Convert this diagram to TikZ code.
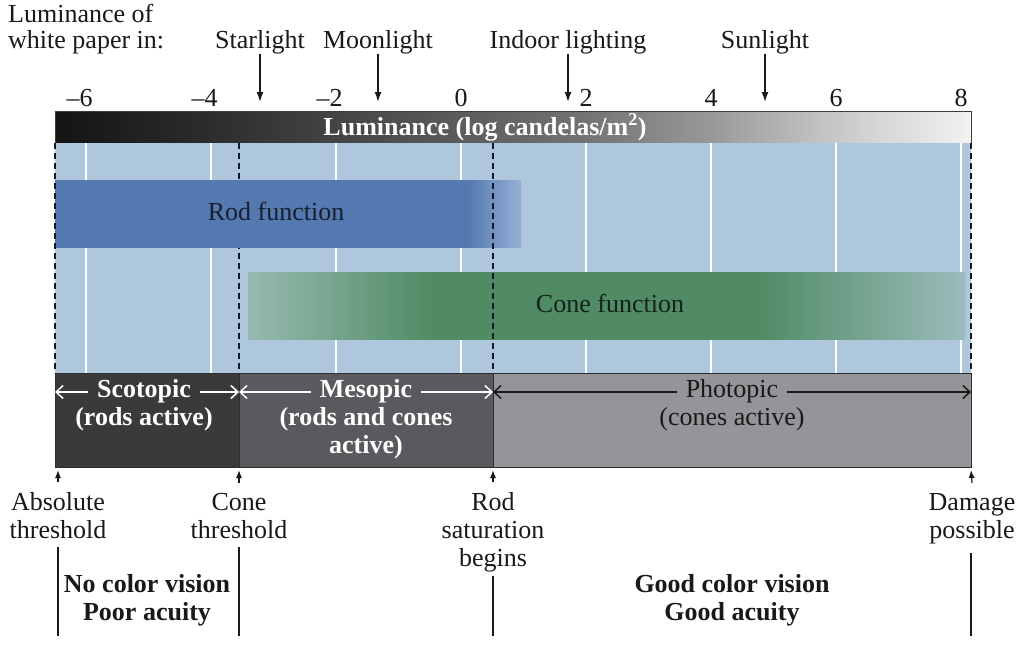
\documentclass[tikz,border=0pt]{standalone}
\usepackage{fontspec}
\setmainfont{Liberation Serif}
\usetikzlibrary{arrows.meta}
\definecolor{ink}{RGB}{25,25,25}
\definecolor{bgblue}{RGB}{175,199,220}
\definecolor{rodblue}{RGB}{84,120,176}
\definecolor{rodfade}{RGB}{150,176,212}
\definecolor{conegreen}{RGB}{80,139,100}
\definecolor{coneL}{RGB}{150,186,176}
\definecolor{coneR}{RGB}{155,188,188}
\definecolor{scotc}{RGB}{58,58,60}
\definecolor{mesoc}{RGB}{90,90,94}
\definecolor{photc}{RGB}{148,149,152}
\definecolor{boxline}{RGB}{45,45,48}
\definecolor{dashc}{RGB}{20,25,40}
\definecolor{rodtxt}{RGB}{25,30,45}
\definecolor{conetxt}{RGB}{20,35,25}
\definecolor{barline}{RGB}{60,60,60}
\definecolor{g0}{RGB}{20,20,20}
\definecolor{g1}{RGB}{45,45,45}
\definecolor{g2}{RGB}{92,92,94}
\definecolor{g3}{RGB}{115,115,117}
\definecolor{g4}{RGB}{152,153,155}
\definecolor{g5}{RGB}{200,200,202}
\definecolor{g6}{RGB}{243,243,243}
\pgfdeclarehorizontalshading{lumshade}{100bp}{color(0bp)=(g0); color(25bp)=(g0); color(33.6bp)=(g1); color(47.2bp)=(g2); color(54bp)=(g3); color(60.8bp)=(g4); color(67.6bp)=(g5); color(75bp)=(g6); color(100bp)=(g6)}
\pgfdeclarehorizontalshading{rodshade}{100bp}{color(0bp)=(rodblue); color(25bp)=(rodblue); color(69.2bp)=(rodblue); color(75bp)=(rodfade); color(100bp)=(rodfade)}
\pgfdeclarehorizontalshading{coneshade}{100bp}{color(0bp)=(coneL); color(25bp)=(coneL); color(38bp)=(conegreen); color(60.5bp)=(conegreen); color(75bp)=(coneR); color(100bp)=(coneR)}
\tikzset{
  lbl/.style={font=\fontsize{26}{30}\selectfont, text=ink, inner sep=0pt, anchor=base},
  blbl/.style={lbl, font=\fontsize{26}{30}\selectfont\bfseries},
  whead/.style={blbl, text=white, inner xsep=9pt},
  toparr/.style={-{Latex[length=10pt,width=7pt]}, line width=1.4pt, draw=ink},
  uparr/.style={-{Latex[length=8pt,width=6pt]}, line width=1.2pt, draw=ink},
  barbw/.style={-{Straight Barb[length=7pt,width=13pt]}, line width=1.5pt, draw=white},
  barbk/.style={-{Straight Barb[length=7pt,width=13pt]}, line width=1.5pt, draw=ink},
  dashv/.style={draw=dashc, line width=1.7pt, dash pattern=on 6pt off 4pt},
  whitev/.style={draw=white, line width=1.6pt},
  sepline/.style={draw=ink, line width=1.4pt},
  boxn/.style={draw=boxline, line width=0.9pt, inner sep=0pt, anchor=north west, minimum height=94pt}
}
\begin{document}
\begin{tikzpicture}[x=1pt,y=-1pt]
\useasboundingbox (0,0) rectangle (1024,648);
\fill[white] (0,0) rectangle (1024,648);

% top labels and arrows
\node[lbl,anchor=base west] (lumof) at (8,22) {Luminance of};
\node[lbl,anchor=base west] (paper) at (8,48) {white paper in:};
\node[lbl] (star) at (260,48) {Starlight};
\node[lbl] (moon) at (378,48) {Moonlight};
\node[lbl] (indoor) at (568,48) {Indoor lighting};
\node[lbl] (sun) at (765,48) {Sunlight};
\coordinate (starT) at (260,102);
\coordinate (moonT) at (378,102);
\coordinate (indoorT) at (568,102);
\coordinate (sunT) at (765,102);
\draw[toparr] (star.south) -- (starT);
\draw[toparr] (moon.south) -- (moonT);
\draw[toparr] (indoor.south) -- (indoorT);
\draw[toparr] (sun.south) -- (sunT);

% tick labels
\foreach \v/\t in {-6/{\llap{\textendash}6},-4/{\llap{\textendash}4},-2/{\llap{\textendash}2},0/0,2/2,4/4,6/6,8/8}
  \node[lbl] (tick\v) at ({461+62.5*\v},106) {\t};

% gradient bar
\node[draw=barline, line width=0.8pt, shade, shading=lumshade, minimum width=916pt, minimum height=32pt, inner sep=0pt, anchor=north west] (lumbar) at (55,111) {};
\node[blbl, text=white] (lumtxt) at (485,135) {Luminance (log candelas/m\textsuperscript{2})};

% blue field
\fill[bgblue] (55,143) rectangle (971,373);
\foreach \v in {-6,-4,...,8}
  \draw[whitev] ({461+62.5*\v},143) -- ({461+62.5*\v},373);
\draw[dashv] (239,143) -- (239,373);

% rod function
\shade[shading=rodshade] (55,180) rectangle (521,247);
\node[lbl, text=rodtxt] (rodT) at (276,220) {Rod function};

% cone function
\shade[shading=coneshade] (248,272) rectangle (965,339);
\node[lbl, text=conetxt] (coneT) at (610,312) {Cone function};

\draw[dashv] (55,143) -- (55,373);
\draw[dashv] (493,143) -- (493,373);
\draw[dashv] (971,143) -- (971,373);

% range boxes
\node[boxn, fill=scotc, minimum width=184pt] (scotB) at (55,373) {};
\node[boxn, fill=mesoc, minimum width=254pt] (mesoB) at (239,373) {};
\node[boxn, fill=photc, minimum width=478pt] (photB) at (493,373) {};

\coordinate (sL) at (55,392);
\coordinate (sR) at (239,392);
\coordinate (mR) at (493,392);
\coordinate (pR) at (971,392);

\node[whead] (scotT) at (144,397) {Scotopic};
\node[blbl, text=white] (scot2) at (144,425) {(rods active)};
\draw[barbw] (scotT.west |- sL) -- (sL);
\draw[barbw] (scotT.east |- sR) -- (sR);

\node[whead] (mesoT) at (366,397) {Mesopic};
\node[blbl, text=white] (meso2) at (366,425) {(rods and cones};
\node[blbl, text=white] (meso3) at (366,453) {active)};
\draw[barbw] (mesoT.west |- sR) -- (sR);
\draw[barbw] (mesoT.east |- mR) -- (mR);

\node[lbl, inner xsep=9pt] (photT) at (732,397) {Photopic};
\node[lbl] (phot2) at (732,425) {(cones active)};
\draw[barbk] (photT.west |- mR) -- (mR);
\draw[barbk] (photT.east |- pR) -- (pR);

% bottom labels
\node[lbl] (abs1) at (58,510) {Absolute};
\node[lbl] (abs2) at (58,538) {threshold};
\node[lbl] (cone1) at (239,510) {Cone};
\node[lbl] (cone2) at (239,538) {threshold};
\node[lbl] (rod1) at (493,510) {Rod};
\node[lbl] (rod2) at (493,538) {saturation};
\node[lbl] (rod3) at (493,566) {begins};
\node[lbl] (dam1) at (972,510) {Damage};
\node[lbl] (dam2) at (972,538) {possible};

\coordinate (absTip) at (58,470);
\coordinate (coneTip) at (239,470);
\coordinate (rodTip) at (493,470);
\coordinate (damTip) at (971,470);
\draw[uparr] ([yshift=10pt]abs1.north) -- (absTip);
\draw[uparr] ([yshift=10pt]cone1.north) -- (coneTip);
\draw[uparr] ([yshift=10pt]rod1.north) -- (rodTip);
\draw[uparr] ([yshift=10pt]dam1.north) -- (damTip);

\coordinate (absB) at (58,636);
\coordinate (coneB) at (239,636);
\coordinate (rodB) at (493,636);
\coordinate (damB) at (971,636);
\draw[sepline] (58,547) -- (absB);
\draw[sepline] (239,547) -- (coneB);
\draw[sepline] (493,576) -- (rodB);
\draw[sepline] (971,553) -- (damB);

\node[blbl] (nocol) at (147,592) {No color vision};
\node[blbl] (poor) at (147,620) {Poor acuity};
\node[blbl] (goodc) at (732,592) {Good color vision};
\node[blbl] (gooda) at (732,620) {Good acuity};
\end{tikzpicture}
\end{document}
